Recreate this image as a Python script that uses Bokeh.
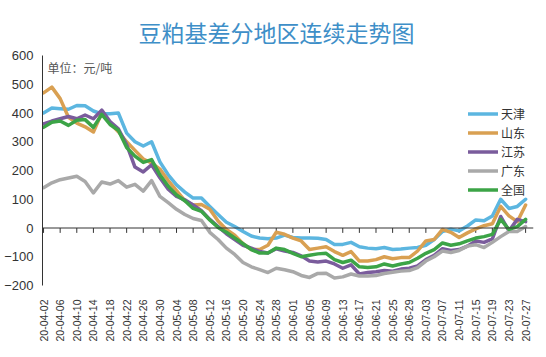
import math
import pandas as pd
from bokeh.plotting import figure
from bokeh.models import (Range1d, FixedTicker, DatetimeTickFormatter, Legend,
                          LegendItem, Label, Span, ColumnDataSource)
from bokeh.core.properties import value
from bokeh.embed import file_html
from bokeh.resources import INLINE

# ---------------- data ----------------
dates = pd.date_range("2020-04-02", "2020-07-27", freq="2D")
tick_dates = pd.date_range("2020-04-02", "2020-07-27", freq="4D")
y_ticks = [-200, -100, 0, 100, 200, 300, 400, 500, 600]

series_names = ["天津", "山东", "江苏", "广东", "全国"]
series_colors = ["#5cb6e0", "#d9a052", "#7a5c9c", "#a9a9a9", "#3ca447"]

tianjin = [400, 417, 415, 413, 426, 425, 407, 397, 397, 400,
           330, 300, 285, 300, 230, 185, 150, 125, 104, 104,
           75, 47, 20, 5, -12, -28, -35, -37, -35, -25,
           -33, -35, -35, -36, -40, -57, -57, -50, -65, -70,
           -72, -68, -75, -73, -70, -68, -60, -40, -12, -4,
           -10, 7, 28, 25, 42, 100, 68, 75, 100]
shandong = [470, 490, 450, 385, 365, 352, 334, 400, 365, 335,
            300, 270, 240, 226, 205, 165, 130, 95, 80, 82,
            65, 24, -5, -25, -55, -75, -75, -60, -15, -22,
            -35, -45, -75, -70, -65, -82, -95, -82, -115, -115,
            -110, -100, -107, -103, -103, -80, -45, -40, -5, -15,
            -33, -17, -3, 8, 15, 75, 42, 22, 80]
jiangsu = [362, 372, 380, 388, 380, 393, 380, 410, 370, 345,
           290, 212, 195, 220, 175, 135, 110, 98, 80, 60,
           30, 5, -20, -40, -60, -70, -82, -87, -72, -80,
           -85, -97, -115, -118, -115, -125, -140, -128, -160, -155,
           -152, -148, -150, -143, -140, -132, -110, -95, -72, -78,
           -75, -63, -45, -50, -38, 40, -10, 30, 22]
guangdong = [140, 157, 168, 174, 180, 162, 122, 160, 153, 165,
             142, 152, 128, 165, 110, 88, 65, 47, 33, 26,
             -15, -40, -70, -92, -120, -135, -145, -155, -140, -145,
             -152, -165, -172, -158, -157, -174, -170, -160, -167, -167,
             -165, -158, -154, -150, -148, -138, -115, -100, -80, -85,
             -78, -63, -58, -68, -50, -30, -12, -12, 5]
quanguo = [350, 368, 372, 357, 375, 377, 350, 395, 360, 340,
           280, 250, 228, 238, 185, 145, 115, 95, 68, 58,
           28, 2, -15, -35, -55, -75, -87, -87, -70, -75,
           -88, -100, -95, -90, -88, -110, -120, -112, -135, -137,
           -135, -125, -132, -125, -120, -105, -88, -75, -52, -60,
           -55, -45, -35, -30, -22, 30, -5, 5, 30]

series_values = [tianjin, shandong, jiangsu, guangdong, quanguo]

# ---------------- figure ----------------
x_start = dates[0] - pd.Timedelta(hours=6)
x_end = dates[0] + pd.Timedelta(days=117.9)

p = figure(width=546, height=357, x_axis_type="datetime",
           output_backend="svg", toolbar_location=None,
           x_range=Range1d(x_start, x_end), y_range=Range1d(-200, 600),
           min_border_left=42, min_border_right=13,
           min_border_top=55, min_border_bottom=72)

p.title.text = "豆粕基差分地区连续走势图"
p.title.align = "left"
p.title.offset = 96
p.title.standoff = 14
p.title.text_font = "Noto Sans CJK SC"
p.title.text_font_size = "23px"
p.title.text_font_style = "normal"
p.title.text_color = "#3e8fc8"

p.outline_line_color = None
p.xgrid.visible = False
p.ygrid.visible = False
p.background_fill_color = "white"
p.border_fill_color = "white"

# y axis
p.yaxis.ticker = FixedTicker(ticks=y_ticks)
p.yaxis.axis_line_color = "#333333"
p.yaxis.major_tick_line_color = "#333333"
p.yaxis.major_tick_out = 0
p.yaxis.major_tick_in = 0
p.yaxis.minor_tick_line_color = None
p.yaxis.major_label_standoff = 9
p.yaxis.major_label_text_font = "Liberation Sans"
p.yaxis.major_label_text_font_size = "13px"
p.yaxis.major_label_text_color = "#333333"

# x axis (labels only; the visible axis line sits at zero)
p.xaxis.ticker = FixedTicker(ticks=[int(t.value // 10**6) for t in tick_dates])
fmt = "%y-%m-%d"
p.xaxis.formatter = DatetimeTickFormatter(days=fmt, months=fmt, years=fmt,
                                          hours=fmt, hourmin=fmt, minutes=fmt)
p.xaxis.major_label_orientation = math.pi / 2
p.xaxis.axis_line_color = None
p.xaxis.major_tick_line_color = None
p.xaxis.minor_tick_line_color = None
p.xaxis.major_label_standoff = 8
p.xaxis.major_label_text_font = "Liberation Sans"
p.xaxis.major_label_text_font_size = "10.5px"
p.xaxis.major_label_text_color = "#333333"

# zero line with tick marks
p.add_layout(Span(location=0, dimension="width", line_color="#333333", line_width=1))
p.segment(x0=tick_dates, y0=0, x1=tick_dates, y1=-17, line_color="#333333", line_width=1)

# series
items = []
for name, color, vals in zip(series_names, series_colors, series_values):
    src = ColumnDataSource(dict(x=dates, y=vals))
    r = p.line("x", "y", source=src, line_color=color, line_width=3.5,
               line_join="round", line_cap="round")
    items.append(LegendItem(label=name, renderers=[r]))

legend = Legend(items=items, location=(426, 86))
legend.label_text_font = "Noto Sans CJK SC"
legend.label_text_font_size = "12px"
legend.label_text_color = "#333333"
legend.glyph_width = 30
legend.glyph_height = 19
legend.label_height = 19
legend.label_standoff = 3
legend.spacing = 0
legend.padding = 0
legend.margin = 0
legend.border_line_color = None
legend.background_fill_alpha = 0
p.add_layout(legend, "center")

p.add_layout(Label(x=dates[0], y=600, text="单位：元/吨", x_offset=4, y_offset=-3,
                   text_baseline="top", text_font="Noto Sans CJK SC",
                   text_font_size="12px", text_color="#555555"))

open("out.html", "w").write(file_html(p, INLINE))
